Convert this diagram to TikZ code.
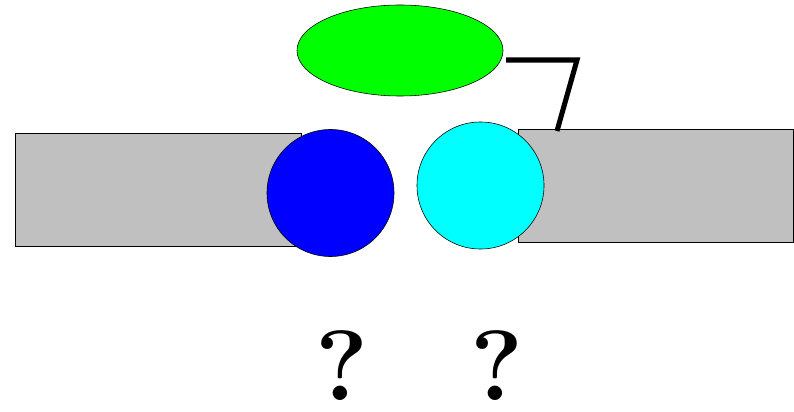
\documentclass[tikz,border=0pt]{standalone}
\usepackage{xcolor}
\usepackage{tikz}
\usetikzlibrary{shapes.geometric}

\definecolor{bargrey}{HTML}{C0C0C0}
\definecolor{ballblue}{HTML}{0000FF}
\definecolor{ballcyan}{HTML}{00FFFF}
\definecolor{capgreen}{HTML}{00FF00}

\tikzset{
  bar/.style={draw=black, line width=0.4pt, fill=bargrey, rectangle,
    inner sep=0pt, outer sep=0pt, minimum height=2.825cm},
  ball/.style={draw=black, line width=0.4pt, circle, inner sep=0pt,
    outer sep=0pt, minimum size=3.175cm},
  query/.style={font=\fontsize{71}{71}\selectfont\bfseries, inner sep=0pt}
}

\begin{document}
\begin{tikzpicture}[x=0.025cm, y=-0.025cm]

  \useasboundingbox (0,0) rectangle (794,412);

  % -- the two grey bars ---------------------------------------------------
  \node[bar, minimum width=7.15cm] (leftbar) at (158,189.5) {};
  \node[bar, minimum width=6.875cm] (rightbar) at (655.5,185.5) {};

  % -- the two balls -------------------------------------------------------
  \node[ball, fill=ballblue] (blueball) at (330.5,193) {};
  \node[ball, fill=ballcyan] (cyanball) at (480.5,185.5) {};

  % -- green cap and its hook down to the right bar ------------------------
  \node[ellipse, draw=black, line width=0.4pt, fill=capgreen, inner sep=0pt,
    minimum width=5.15cm, minimum height=2.275cm] (cap) at (400,50.5) {};
  \coordinate (hookstart) at (506,60);
  \coordinate (hookbend) at (577,60);
  \coordinate (hookend) at (557,131);
  \draw[line width=3.6pt, line join=miter] (hookstart) -- (hookbend) -- (hookend);

  % -- question marks ------------------------------------------------------
  \node[query] (leftquery) at (342,366) {?};
  \node[query] (rightquery) at (497,366) {?};

\end{tikzpicture}
\end{document}
